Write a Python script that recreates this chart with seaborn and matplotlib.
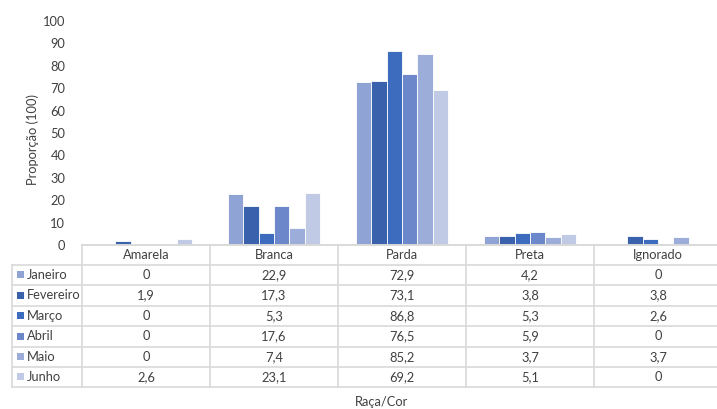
import pandas as pd
import matplotlib
matplotlib.use('Agg')
import matplotlib.pyplot as plt
import seaborn as sns

# Data
racas = ['Amarela', 'Branca', 'Parda', 'Preta', 'Ignorado']
meses = ['Janeiro', 'Fevereiro', 'Março', 'Abril', 'Maio', 'Junho']
janeiro = [0, 22.9, 72.9, 4.2, 0]
fevereiro = [1.9, 17.3, 73.1, 3.8, 3.8]
marco = [0, 5.3, 86.8, 5.3, 2.6]
abril = [0, 17.6, 76.5, 5.9, 0]
maio = [0, 7.4, 85.2, 3.7, 3.7]
junho = [2.6, 23.1, 69.2, 5.1, 0]
yticks = list(range(0, 101, 10))

cores = ['#8FA3D4', '#3A62AC', '#3D6CBF', '#6C88CA', '#9DADD9', '#C0CAE5']
series = [janeiro, fevereiro, marco, abril, maio, junho]

df = pd.DataFrame([
    {'raca': r, 'mes': m, 'valor': v}
    for m, vals in zip(meses, series)
    for r, v in zip(racas, vals)
])

txt = '#404040'
grid = '#D9D9D9'
fs = 9.3
plt.rcParams['font.family'] = ['Lato', 'DejaVu Sans']

W, H = 717, 409
fig = plt.figure(figsize=(W / 100, H / 100), dpi=100)

# plot area in pixels: x 82..722, y 21..245
x0, x1, ytop, ybot = 82, 722, 21, 245
ax = fig.add_axes([x0 / W, 1 - ybot / H, (x1 - x0) / W, (ybot - ytop) / H])
sns.barplot(data=df, x='raca', y='valor', hue='mes', palette=cores,
            order=racas, hue_order=meses, width=0.72, saturation=1,
            edgecolor='white', linewidth=0.6, ax=ax)
ax.legend_.remove()
ax.set_ylim(0, 100)
ax.set_xlim(-0.5, len(racas) - 0.5)
ax.set_yticks(yticks)
ax.set_yticklabels([str(t) for t in yticks], color=txt, fontsize=fs)
ax.tick_params(axis='y', length=0, pad=12)
ax.set_xticks([])
ax.set_xlabel('')
ax.set_ylabel('Proporção (100)', color=txt, fontsize=fs)
ax.yaxis.set_label_coords((39 - x0) / (x1 - x0), 0.47)
for s in ['top', 'right', 'left']:
    ax.spines[s].set_visible(False)
ax.spines['bottom'].set_color(grid)
ax.spines['bottom'].set_linewidth(1.2)

# data table drawn in pixel coordinates
tab = fig.add_axes([0, 0, 1, 1])
tab.set_xlim(0, W)
tab.set_ylim(H, 0)
tab.axis('off')
tab.patch.set_alpha(0)

row_y = [245, 264.5, 285, 305.5, 326, 346.5, 367, 386.5]
col_x = [x0 + i * (x1 - x0) / len(racas) for i in range(len(racas) + 1)]
lab_x = 12

tab.plot([x0, x1], [row_y[0], row_y[0]], color=grid, lw=1.2)
for y in row_y[1:]:
    tab.plot([lab_x, x1], [y, y], color=grid, lw=1.2)
tab.plot([lab_x, lab_x], [row_y[1], row_y[-1]], color=grid, lw=1.2)
for x in col_x[:-1]:
    tab.plot([x, x], [row_y[0], row_y[-1]], color=grid, lw=1.2)

for i, r in enumerate(racas):
    cx = (col_x[i] + col_x[i + 1]) / 2
    tab.text(cx, (row_y[0] + row_y[1]) / 2, r, ha='center', va='center',
             color=txt, fontsize=fs)

def fmt(v):
    return str(int(v)) if v == int(v) else str(v).replace('.', ',')

for j, (m, vals, c) in enumerate(zip(meses, series, cores)):
    cy = (row_y[j + 1] + row_y[j + 2]) / 2
    tab.add_patch(plt.Rectangle((17, cy - 3.5), 7, 7, color=c, lw=0))
    tab.text(27, cy, m, ha='left', va='center', color=txt, fontsize=fs)
    for i, v in enumerate(vals):
        cx = (col_x[i] + col_x[i + 1]) / 2
        tab.text(cx, cy, fmt(v), ha='center', va='center', color=txt, fontsize=fs)

tab.text((x0 + W) / 2 - 18, 402, 'Raça/Cor', ha='center', va='center',
         color=txt, fontsize=fs)

fig.savefig('out.png', dpi=100)
